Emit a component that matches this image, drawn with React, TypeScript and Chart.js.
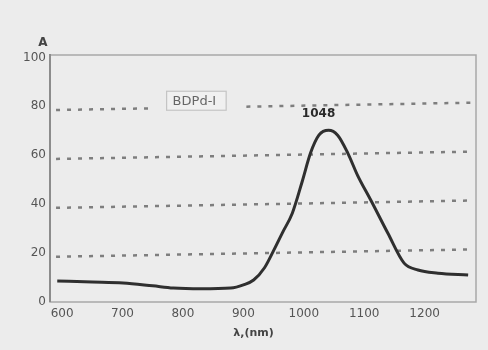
import React, { useEffect, useRef } from "react";
import { Chart, registerables } from "chart.js";

Chart.register(...registerables);

const wavelengths = [592, 650, 701, 750, 784, 830, 879, 900, 917, 935, 950, 965, 981, 998, 1011, 1025, 1041, 1056, 1073, 1089, 1111, 1139, 1166, 1189, 1222, 1272];
const absorbance = [8.6, 8.2, 7.8, 6.6, 5.7, 5.4, 5.7, 7, 9, 14, 21, 28.5, 36.3, 49.8, 60.8, 68.2, 70.2, 68.2, 60.8, 51.8, 41.6, 28.2, 15.9, 13.1, 11.8, 11];
const xTicks = [600, 700, 800, 900, 1000, 1100, 1200];
const yTicks = [0, 20, 40, 60, 80, 100];
const gridLevels = [20, 40, 60, 80];
const seriesLabel = "BDPd-I";
const peakLabel = "1048";
const peakX = 1041;
const peakY = 70.2;
const yTitle = "A";
const xTitle = "λ,(nm)";

const FONT = "'DejaVu Sans', 'Liberation Sans', Arial, sans-serif";

const decorPlugin = {
  id: "decor",
  beforeDatasetsDraw(chart: any) {
    const { ctx, chartArea, scales } = chart;
    const xs = scales.x;
    const ys = scales.y;
    ctx.save();
    ctx.strokeStyle = "#a8a8a8";
    ctx.lineWidth = 1.5;
    ctx.strokeRect(chartArea.left, chartArea.top, chartArea.right - chartArea.left, chartArea.bottom - chartArea.top);
    ctx.strokeStyle = "rgba(90,90,90,0.75)";
    ctx.lineWidth = 2.5;
    ctx.setLineDash([4, 7]);
    gridLevels.forEach((lv) => {
      const x0 = xs.getPixelForValue(590);
      const x1 = xs.getPixelForValue(1278);
      const y0 = ys.getPixelForValue(lv - 1.5);
      const y1 = ys.getPixelForValue(lv + 1.5);
      if (lv === 80) {
        const ga = xs.getPixelForValue(752);
        const gb = xs.getPixelForValue(905);
        const t = (x: number) => y0 + ((x - x0) / (x1 - x0)) * (y1 - y0);
        ctx.beginPath();
        ctx.moveTo(x0, y0);
        ctx.lineTo(ga, t(ga));
        ctx.moveTo(gb, t(gb));
        ctx.lineTo(x1, y1);
        ctx.stroke();
      } else {
        ctx.beginPath();
        ctx.moveTo(x0, y0);
        ctx.lineTo(x1, y1);
        ctx.stroke();
      }
    });
    ctx.setLineDash([]);
    ctx.strokeStyle = "#8c8c8c";
    ctx.lineWidth = 2;
    ctx.beginPath();
    ctx.moveTo(chartArea.left, chartArea.top - 1);
    ctx.lineTo(chartArea.left, chartArea.bottom);
    ctx.stroke();
    ctx.restore();
  },
  afterDraw(chart: any) {
    const { ctx, chartArea, scales } = chart;
    const xs = scales.x;
    const ys = scales.y;
    ctx.save();
    const lx = xs.getPixelForValue(773);
    const ly = ys.getPixelForValue(82.5);
    ctx.font = `13px ${FONT}`;
    const tw = ctx.measureText(seriesLabel).width;
    ctx.fillStyle = "#f0f0f0";
    ctx.fillRect(lx, ly - 9, tw + 16, 19);
    ctx.strokeStyle = "#c4c4c4";
    ctx.lineWidth = 1.2;
    ctx.strokeRect(lx, ly - 9, tw + 16, 19);
    ctx.fillStyle = "#666";
    ctx.textAlign = "left";
    ctx.textBaseline = "middle";
    ctx.fillText(seriesLabel, lx + 6, ly + 1);
    ctx.font = `bold 12px ${FONT}`;
    ctx.fillStyle = "#2a2a2a";
    ctx.textAlign = "center";
    ctx.fillText(peakLabel, xs.getPixelForValue(peakX) - 10, ys.getPixelForValue(peakY) - 16);
    ctx.font = `bold 12px ${FONT}`;
    ctx.fillStyle = "#444";
    ctx.fillText(yTitle, chartArea.left - 7, chartArea.top - 12);
    ctx.font = `bold 11px ${FONT}`;
    ctx.fillText(xTitle, (xs.getPixelForValue(900) + xs.getPixelForValue(1000)) / 2 - 20, chartArea.bottom + 31);
    ctx.restore();
  },
};

export default function App() {
  const ref = useRef<HTMLCanvasElement | null>(null);
  useEffect(() => {
    if (!ref.current) return;
    const chart = new Chart(ref.current, {
      type: "line",
      data: {
        datasets: [
          {
            label: seriesLabel,
            data: wavelengths.map((x, i) => ({ x, y: absorbance[i] })),
            borderColor: "#2f2f2f",
            borderWidth: 3,
            pointRadius: 0,
            cubicInterpolationMode: "monotone",
            fill: false,
          },
        ],
      },
      options: {
        animation: false,
        responsive: false,
        maintainAspectRatio: false,
        layout: { padding: { left: 0, right: 12, top: 55, bottom: 0 } },
        plugins: { legend: { display: false }, tooltip: { enabled: false } },
        scales: {
          x: {
            type: "linear",
            min: 580,
            max: 1285,
            afterBuildTicks: (s: any) => {
              s.ticks = xTicks.map((v) => ({ value: v }));
            },
            afterFit: (s: any) => {
              s.height = 48;
            },
            grid: { display: false, drawTicks: false },
            border: { display: false },
            ticks: {
              color: "#555",
              font: { family: FONT, size: 12 },
              padding: 5,
              maxRotation: 0,
              autoSkip: false,
              callback: (v: any) => String(v),
            },
          },
          y: {
            type: "linear",
            min: 0,
            max: 101,
            afterBuildTicks: (s: any) => {
              s.ticks = yTicks.map((v) => ({ value: v }));
            },
            afterFit: (s: any) => {
              s.width = 50;
            },
            grid: { display: false, drawTicks: false },
            border: { display: false },
            ticks: { color: "#555", font: { family: FONT, size: 12 }, padding: 4, callback: (v: any) => String(v) },
          },
        },
      },
      plugins: [decorPlugin],
    } as any);
    return () => chart.destroy();
  }, []);
  return (
    <div style={{ position: "fixed", left: 0, top: 0, width: 488, height: 350, background: "#ececec" }}>
      <canvas ref={ref} width={488} height={350} style={{ display: "block" }} />
    </div>
  );
}
